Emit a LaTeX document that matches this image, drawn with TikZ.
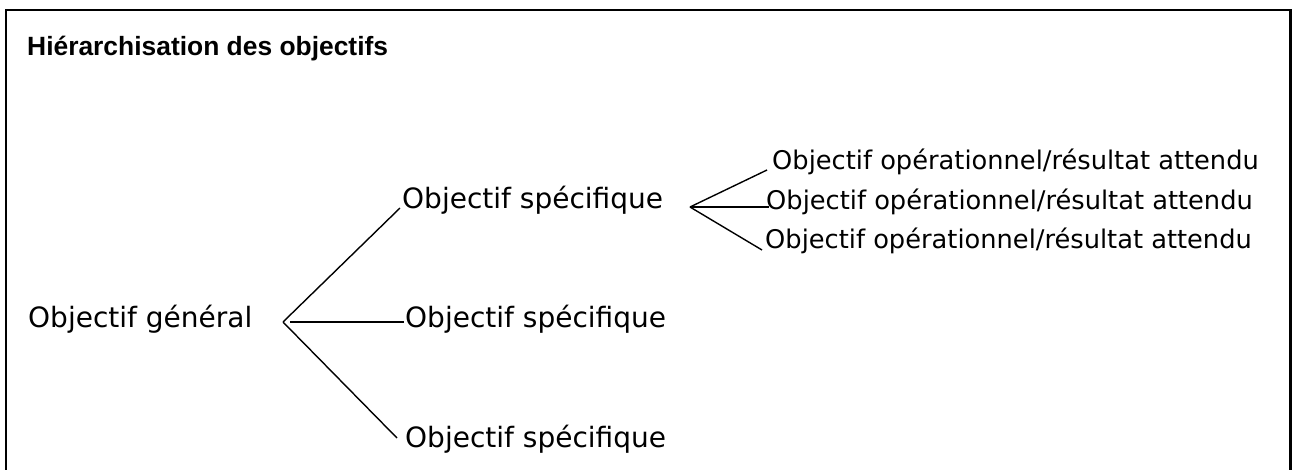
\documentclass[tikz,border=0pt]{standalone}
\usepackage{fontspec}
\setmainfont{DejaVu Sans}
\newfontfamily\titlefont{Liberation Sans}
\tikzset{
  lbl/.style={inner sep=0pt,anchor=base west,font=\fontsize{28}{30}\selectfont},
  oplbl/.style={inner sep=0pt,anchor=base west,font=\fontsize{25.7}{28}\selectfont},
  branch/.style={line width=1.4pt}
}
\begin{document}
\begin{tikzpicture}[x=1pt,y=-1pt]
\useasboundingbox (0,0) rectangle (1297,469);
% Frame
\draw[line width=2pt] (6,475) -- (6,10) -- (1290,10);
\draw[line width=3pt] (1290,9) -- (1290,475);

% Title
\node[inner sep=0pt,anchor=base west,font=\titlefont\bfseries\fontsize{26.4}{28}\selectfont] (title) at (27,55) {Hiérarchisation des objectifs};

% Labels
\node[lbl] (gen) at (28,327) {Objectif général};
\node[lbl] (spA) at (402,208) {Objectif spécifique};
\node[lbl] (spB) at (405,327) {Objectif spécifique};
\node[lbl] (spC) at (405,447) {Objectif spécifique};
\node[oplbl] (opA) at (772,169) {Objectif opérationnel/résultat attendu};
\node[oplbl] (opB) at (766,209) {Objectif opérationnel/résultat attendu};
\node[oplbl] (opC) at (765,248) {Objectif opérationnel/résultat attendu};

% Branches
\coordinate (gv) at (283,322);
\coordinate (sv) at (690,207);
\draw[branch] (gv) -- ([xshift=-2pt]spA.base west);
\draw[branch] ([xshift=7pt]gv) -- ([xshift=-1pt]spB.base west |- gv);
\draw[branch] (gv) -- ([xshift=-8pt,yshift=9pt]spC.base west);
\draw[branch] (sv) -- ([xshift=-5pt,yshift=-1pt]opA.base west);
\draw[branch] ([xshift=2pt]sv) -- ([xshift=3pt]opB.base west |- sv);
\draw[branch] (sv) -- ([xshift=-3pt,yshift=-2pt]opC.base west);
\end{tikzpicture}
\end{document}
